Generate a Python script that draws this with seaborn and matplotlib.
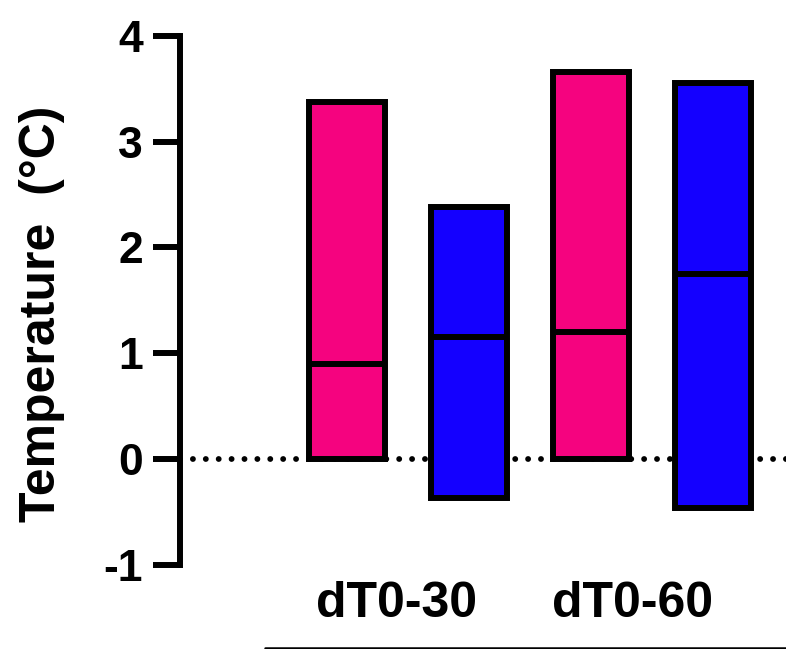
import matplotlib
matplotlib.use("Agg")
import matplotlib.pyplot as plt
import matplotlib.transforms as mtransforms
import pandas as pd
import seaborn as sns

# Temperature change windows
windows = ["dT0-30", "dT0-60"]
groups = ["Group 1", "Group 2"]

# Floating-bar ranges (min to max) with the median marked inside each bar
low_g1 = [0.0, 0.0]
high_g1 = [3.37, 3.66]
median_g1 = [0.90, 1.20]

low_g2 = [-0.37, -0.47]
high_g2 = [2.38, 3.55]
median_g2 = [1.15, 1.75]

y_ticks = [-1, 0, 1, 2, 3, 4]

colors = ["#F5037F", "#1400FF"]

rows = []
for g, lo, hi, md in [("Group 1", low_g1, high_g1, median_g1),
                      ("Group 2", low_g2, high_g2, median_g2)]:
    for w, l, h, m in zip(windows, lo, hi, md):
        rows.append(dict(window=w, group=g, low=l, high=h, median=m, span=h - l))
df = pd.DataFrame(rows)

sns.set_style("ticks")
plt.rcParams.update({
    "font.family": ["Liberation Sans", "DejaVu Sans"],
    "font.weight": "bold",
    "axes.unicode_minus": False,
    "text.color": "black",
    "axes.labelcolor": "black",
    "xtick.color": "black",
    "ytick.color": "black",
    "axes.edgecolor": "black",
})

fig = plt.figure(figsize=(7.86, 6.49), dpi=100)
ax = fig.add_axes([0.229, 0.1302, 0.771, 0.8146])

sns.barplot(data=df, x="window", y="span", hue="group",
            order=windows, hue_order=groups, palette=colors,
            saturation=1, width=1.0, gap=0.38, errorbar=None,
            edgecolor="black", linewidth=4.3, legend=False, ax=ax, zorder=2)

# dotted zero reference line
ax.axhline(0, color="black", lw=4.2, linestyle=(0, (0.01, 2.2)),
           dash_capstyle="round", zorder=2.5)

# lift each bar to start at its minimum and draw the median line
for container, gname in zip(ax.containers, groups):
    sub = df[df["group"] == gname].set_index("window").loc[windows]
    for bar, lo, md in zip(container, sub["low"], sub["median"]):
        bar.set_y(lo)
        if lo < 0:
            bar.set_zorder(3)
        x0 = bar.get_x()
        x1 = x0 + bar.get_width()
        ax.hlines(md, x0, x1, color="black", lw=4.3, zorder=4)

ax.set_ylim(-1, 4)
ax.set_xlim(-0.9315, 1.547)
ax.set_yticks(y_ticks)
ax.set_yticklabels([str(t) for t in y_ticks])

ax.tick_params(axis="y", length=19.5, width=4.3, pad=7, labelsize=32,
               color="black", labelcolor="black")
ax.tick_params(axis="x", length=0, pad=12, labelsize=36, labelcolor="black")

for side in ["top", "right", "bottom"]:
    ax.spines[side].set_visible(False)
ax.spines["left"].set_linewidth(4.3)
ax.spines["left"].set_color("black")

ax.set_xlabel("")
ax.set_ylabel("Temperature  (°C)", fontsize=36, fontweight="bold", color="black")
ax.yaxis.set_label_coords(-0.228, 0.475)
ax.yaxis.label.set_va("center")

# nudge the category labels
for lab, dx in zip(ax.get_xticklabels(), [-11, -20]):
    lab.set_transform(lab.get_transform() +
                      mtransforms.ScaledTranslation(dx / 100, 0, fig.dpi_scale_trans))

# baseline under the category labels
ax.plot([-0.585, 1.547], [-0.158, -0.158], transform=ax.get_xaxis_transform(),
        clip_on=False, color="black", lw=1.8)

fig.savefig("out.png", dpi=100)
